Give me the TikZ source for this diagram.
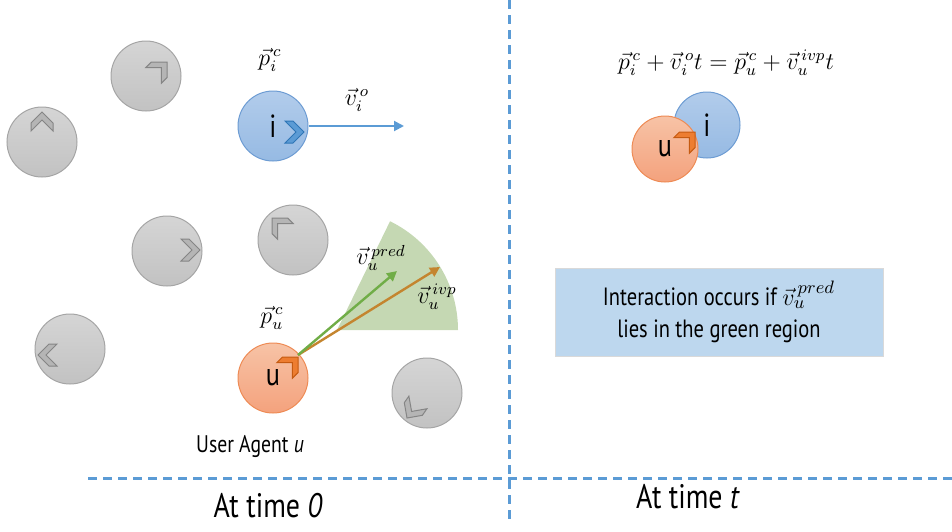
\documentclass[tikz,border=0pt]{standalone}
\usepackage{amsmath}
\usepackage{fontspec}
\setmainfont[FakeStretch=0.82]{PT Sans}
\usetikzlibrary{positioning,arrows.meta,calc}
\definecolor{divline}{HTML}{5B9BD5}
\definecolor{grayhi}{HTML}{D5D5D5}
\definecolor{graylo}{HTML}{C2C2C2}
\definecolor{grayrim}{HTML}{A5A5A5}
\definecolor{chevgray}{HTML}{B5B5B5}
\definecolor{chevrim}{HTML}{858585}
\definecolor{itemhi}{HTML}{B2CCEB}
\definecolor{itemlo}{HTML}{96BAE3}
\definecolor{itemrim}{HTML}{6D9CD3}
\definecolor{itemchev}{HTML}{5B9BD5}
\definecolor{itemchevrim}{HTML}{2E75B6}
\definecolor{userhi}{HTML}{F7C3A6}
\definecolor{userlo}{HTML}{F4A27D}
\definecolor{userrim}{HTML}{EE8B55}
\definecolor{userchev}{HTML}{ED7D31}
\definecolor{userchevrim}{HTML}{C55A11}
\definecolor{sectorbg}{HTML}{C5D8B3}
\definecolor{predarrow}{HTML}{70AD47}
\definecolor{ivparrow}{HTML}{C4852F}
\definecolor{notebg}{HTML}{BDD7EE}
\definecolor{noterim}{HTML}{D9D9D9}

\begin{document}
\begin{tikzpicture}[x=0.5pt,y=-0.5pt,
   ball/.style={circle,minimum size=35pt,inner sep=0pt,line width=0.5pt,font=\fontsize{16}{18}\selectfont},
   other/.style={ball,top color=grayhi,bottom color=graylo,draw=grayrim},
   itemball/.style={ball,top color=itemhi,bottom color=itemlo,draw=itemrim},
   userball/.style={ball,top color=userhi,bottom color=userlo,draw=userrim},
   chev/.pic={\path[pic actions,line join=miter] (0,0) -- (-11,-11) -- (-19,-11) -- (-8,0) -- (-19,11) -- (-11,11) -- cycle;},
   graychev/.style={fill=chevgray,draw=chevrim,line width=0.5pt},
   mlabel/.style={font=\fontsize{12}{14}\selectfont},
   vec/.style={line width=1.2pt,-{Triangle[length=5pt,width=5pt]}},
   divider/.style={draw=divline,line width=1.5pt,dash pattern=on 4.5pt off 3pt}]
\useasboundingbox (0,0) rectangle (952,531);
% time-0 panel
\node[other] (g1) at (146,76) {};
\node[other] (g2) at (42,142) {};
\node[other] (g3) at (167,251) {};
\node[other] (g4) at (293,240) {};
\node[other] (g5) at (70,349) {};
\node[other] (g6) at (427,393) {};
\pic[graychev,rotate=45] at (167,62) {chev};
\pic[graychev,rotate=90] at (42,112) {chev};
\pic[graychev] at (200,250) {chev};
\pic[graychev,rotate=135] at (272,218) {chev};
\pic[graychev,rotate=180] at (38,355) {chev};
\pic[graychev,rotate=235] at (407,418) {chev};
\node[itemball] (item) at (273,126) {i};
\pic[fill=itemchev,draw=itemchevrim,line width=0.5pt] at (304,132) {chev};
\node[mlabel] (pic) at (270,60) {$\vec{p}_i^{\,c}$};
\coordinate (itemgo) at (404,126);
\draw[vec,line width=1pt,draw=itemchev] (item.east) -- (itemgo);
\node[mlabel] (vio) at (357,100) {$\vec{v}_i^{\,o}$};
\fill[sectorbg] (337,330) -- ++(121,0) arc[start angle=0,end angle=-64,radius=121] -- cycle;
\node[userball] (user) at (273,378) {u};
\pic[fill=userchev,draw=userchevrim,line width=0.5pt,rotate=45] at (298,357) {chev};
\coordinate (ustart) at (298,355);
\coordinate (predgo) at (397,271);
\coordinate (ivpgo) at (440,267);
\draw[vec,draw=ivparrow] (ustart) -- (ivpgo);
\draw[vec,draw=predarrow] (ustart) -- (predgo);
\node[mlabel] (vpred) at (381,258) {$\vec{v}_u^{\,pred}$};
\node[mlabel] (vivp) at (437,297) {$\vec{v}_u^{\,ivp}$};
\node[mlabel] (puc) at (272,318) {$\vec{p}_u^{\,c}$};
\node[font=\fontsize{12}{14}\selectfont] (ulab) at (250,446) {User Agent \textit{u}};
% time-t panel
\node[mlabel] (meet) at (726,63) {$\vec{p}_i^{\,c} + \vec{v}_i^{\,o}t = \vec{p}_u^{\,c} + \vec{v}_u^{\,ivp}t$};
\node[itemball,minimum size=33pt] (item2) at (707,125) {i};
\node[userball,minimum size=33pt] (user2) at (665,149) {u};
\pic[fill=userchev,draw=userchevrim,line width=0.5pt,rotate=45] at (695,132) {chev};
\node[fill=notebg,draw=noterim,line width=0.5pt,minimum width=164pt,minimum height=44pt,
      align=center,font=\fontsize{12.5}{16}\selectfont] (note) at (719,312)
      {Interaction occurs if $\vec{v}_u^{\,pred}$\\lies in the green region};
% dividers and captions
\draw[divider] (509,0) -- (509,520);
\draw[divider] (88,478) -- (952,478);
\node[font=\fontsize{17}{20}\selectfont] (t0) at (268,506) {At time \textit{0}};
\node[font=\fontsize{17}{20}\selectfont] (tt) at (688,497) {At time \textit{t}};
\end{tikzpicture}
\end{document}
